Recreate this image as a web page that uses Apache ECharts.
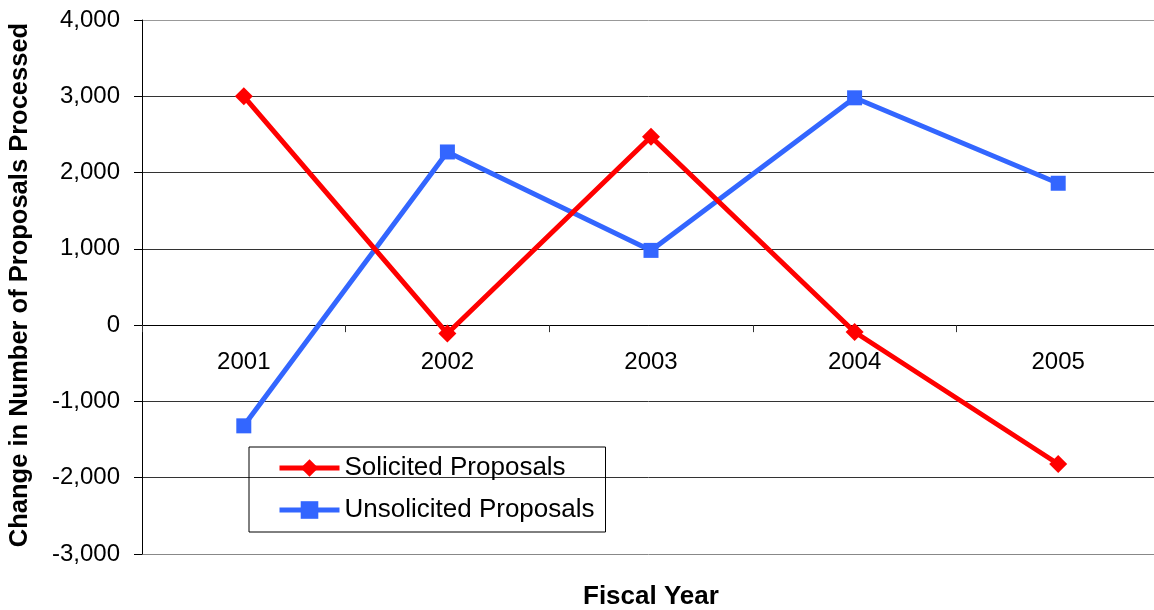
<!DOCTYPE html>
<html>
<head>
<meta charset="utf-8">
<script src="https://cdn.jsdelivr.net/npm/echarts@6/dist/echarts.min.js"></script>
<style>
    html, body { margin: 0; padding: 0; background: #fff; }
    #chart { width: 1154px; height: 610px; }
</style>
</head>
<body>
<div id="chart"></div>
<script>
    const years = ['2001', '2002', '2003', '2004', '2005']
    const solicited = [3000, -110, 2470, -90, -1820]
    const unsolicited = [-1320, 2270, 980, 2980, 1860]
    const yMin = -3000
    const yMax = 4000
    const yStep = 1000

    const font = 'Liberation Sans, Arial, sans-serif'

    // grid box (px), x axis is drawn through the zero line
    const gridTop = 20
    const gridBottom = 56
    const plotHeight = 610 - gridTop - gridBottom
    const zeroOffset = -plotHeight * (0 - yMin) / (yMax - yMin)

    const myChart = echarts.init(document.getElementById('chart'))
    const option = {
        animation: false,
        backgroundColor: '#fff',
        textStyle: { fontFamily: font },
        title: {
            text: 'Fiscal Year',
            left: 583,
            top: 584,
            padding: 0,
            textStyle: { fontSize: 26, fontWeight: 'bold', color: '#000', fontFamily: font }
        },
        grid: {
            left: 142,
            right: -6,
            top: gridTop,
            bottom: gridBottom,
            outerBoundsMode: 'none'
        },
        legend: {
            orient: 'vertical',
            left: 249,
            top: 447,
            padding: [8, 11, 9, 28],
            itemGap: 16,
            itemWidth: 60,
            itemHeight: 22,
            borderColor: '#000',
            borderWidth: 1,
            lineStyle: { width: 5 },
            textStyle: { fontSize: 26, color: '#000', fontFamily: font, lineHeight: 26 },
            data: ['Solicited Proposals', 'Unsolicited Proposals']
        },
        xAxis: {
            type: 'category',
            data: years,
            boundaryGap: true,
            offset: zeroOffset,
            axisLine: { onZero: false, lineStyle: { color: '#000', width: 1 } },
            axisTick: { show: true, length: 7, lineStyle: { color: '#333' } },
            axisLabel: { fontSize: 24, color: '#000', margin: 25 },
            splitLine: { show: false }
        },
        yAxis: {
            type: 'value',
            min: yMin,
            max: yMax,
            interval: yStep,
            name: 'Change in Number of Proposals Processed',
            nameLocation: 'middle',
            nameGap: 109,
            nameTextStyle: { fontSize: 25.5, fontWeight: 'bold', color: '#000', padding: [0, 0, 0, 4] },
            axisLine: { show: true, lineStyle: { color: '#000', width: 1 } },
            axisTick: { show: true, length: 8, lineStyle: { color: '#000' } },
            axisLabel: {
                fontSize: 24,
                color: '#000',
                margin: 22,
                formatter: v => v.toLocaleString('en-US')
            },
            splitLine: {
                show: true,
                lineStyle: {
                    color: ['#888', '#333', '#333', '#333', '#333', '#333', '#333', '#999'],
                    width: 1
                }
            }
        },
        series: [
            {
                name: 'Solicited Proposals',
                type: 'line',
                data: solicited,
                symbol: 'diamond',
                symbolSize: 18,
                itemStyle: { color: '#FF0000' },
                lineStyle: { color: '#FF0000', width: 5 },
                z: 3
            },
            {
                name: 'Unsolicited Proposals',
                type: 'line',
                data: unsolicited,
                symbol: 'rect',
                symbolSize: 15,
                itemStyle: { color: '#3366FF' },
                lineStyle: { color: '#3366FF', width: 5 },
                z: 2
            }
        ]
    }
    myChart.setOption(option)
</script>
</body>
</html>
